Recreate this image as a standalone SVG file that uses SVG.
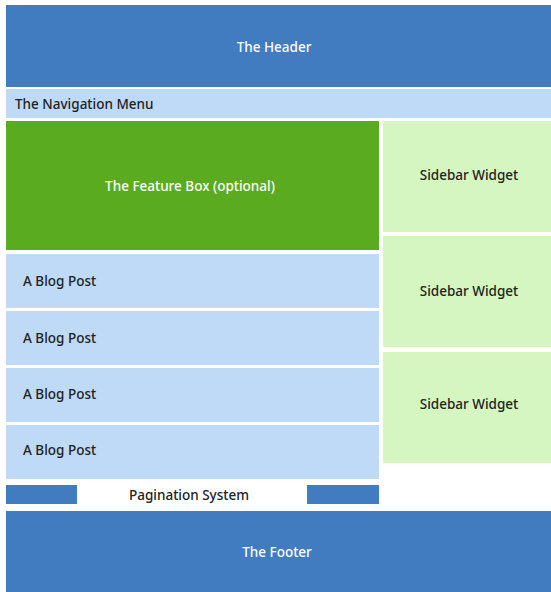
<svg xmlns="http://www.w3.org/2000/svg" width="551" height="592" viewBox="0 0 551 592">
<style>
.dark{fill:#417cc0}
.light{fill:#bfdaf6}
.green{fill:#5aab1f}
.lgreen{fill:#d5f5c1}
text{font-family:"Noto Sans","Liberation Sans",sans-serif;font-size:13.5px;font-weight:500;fill:#222}
.w{fill:#ffffff}
.c{text-anchor:middle}
</style>
<rect width="551" height="592" fill="#ffffff"/>
<g id="header"><rect class="dark" x="6" y="5" width="545" height="82"/><text class="w c" x="274" y="51.5">The Header</text></g>
<g id="nav"><rect class="light" x="6" y="89" width="545" height="29"/><text x="15" y="108.5">The Navigation Menu</text></g>
<g id="feature"><rect class="green" x="6" y="121" width="373" height="129"/><text class="w c" x="190" y="190.5">The Feature Box (optional)</text></g>
<g id="sidebar1"><rect class="lgreen" x="383" y="121" width="168" height="111"/><text class="c" x="469" y="179.5">Sidebar Widget</text></g>
<g id="sidebar2"><rect class="lgreen" x="383" y="236" width="168" height="111"/><text class="c" x="469" y="295.5">Sidebar Widget</text></g>
<g id="sidebar3"><rect class="lgreen" x="383" y="352" width="168" height="111"/><text class="c" x="469" y="408.5">Sidebar Widget</text></g>
<g id="post1"><rect class="light" x="6" y="254" width="373" height="54"/><text x="23" y="285.5">A Blog Post</text></g>
<g id="post2"><rect class="light" x="6" y="311" width="373" height="54"/><text x="23" y="342.5">A Blog Post</text></g>
<g id="post3"><rect class="light" x="6" y="368" width="373" height="54"/><text x="23" y="398.5">A Blog Post</text></g>
<g id="post4"><rect class="light" x="6" y="425" width="373" height="54"/><text x="23" y="454.5">A Blog Post</text></g>
<g id="pagination"><rect class="dark" x="6" y="485" width="71" height="19"/><rect class="dark" x="307" y="485" width="72" height="19"/><text class="c" x="189" y="499.5">Pagination System</text></g>
<g id="footer"><rect class="dark" x="6" y="511" width="545" height="81"/><text class="w c" x="277" y="556.5">The Footer</text></g>
<g id="connectors"></g>
</svg>
